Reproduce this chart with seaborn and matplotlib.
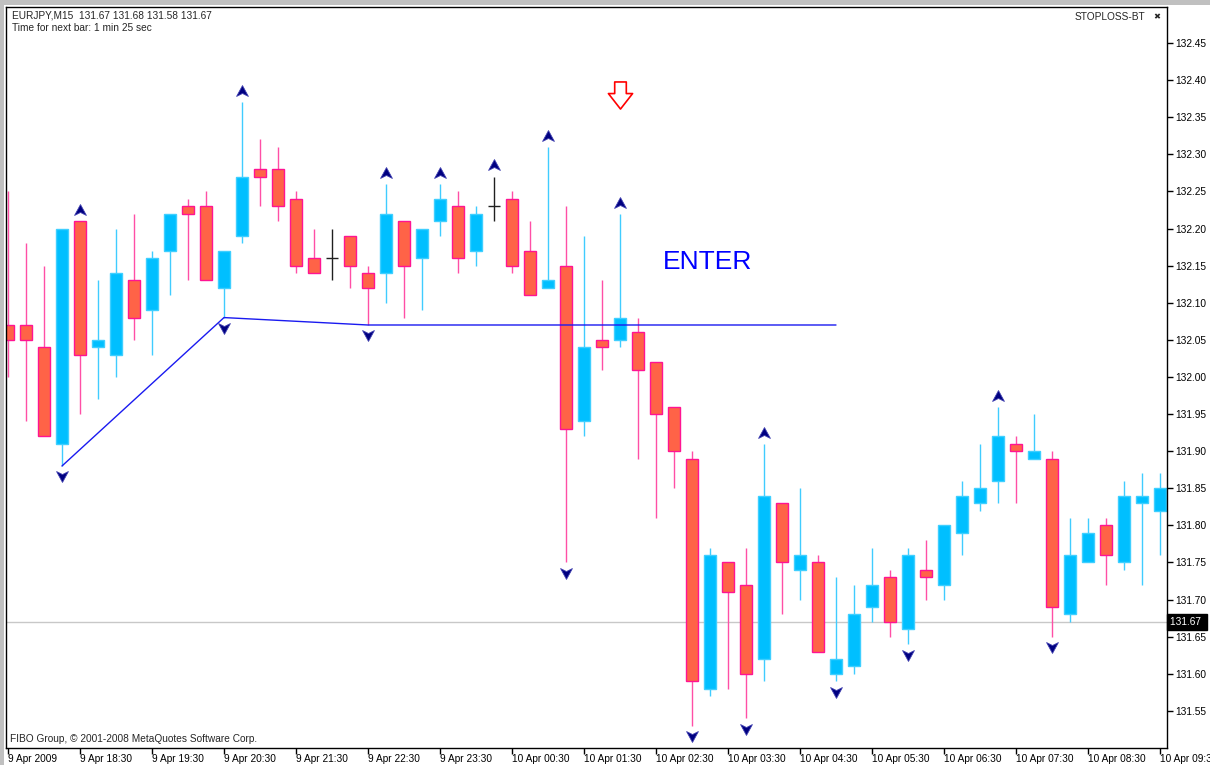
import matplotlib
matplotlib.use("Agg")
import matplotlib.pyplot as plt
import matplotlib.patches as mpatches
from matplotlib.path import Path
from matplotlib.transforms import offset_copy, blended_transform_factory
import numpy as np
import pandas as pd
import seaborn as sns

# ---------------- data (EURJPY M15) ----------------
opens = [132.07, 132.07, 132.04, 131.91, 132.21, 132.04, 132.03, 132.13, 132.09, 132.17,
         132.23, 132.23, 132.12, 132.19, 132.28, 132.28, 132.24, 132.16, 132.16, 132.19,
         132.14, 132.14, 132.21, 132.16, 132.21, 132.23, 132.17, 132.23, 132.24, 132.17,
         132.12, 132.15, 131.94, 132.05, 132.05, 132.06, 132.02, 131.96, 131.89, 131.58,
         131.75, 131.72, 131.62, 131.83, 131.74, 131.75, 131.60, 131.61, 131.69, 131.73,
         131.66, 131.74, 131.72, 131.79, 131.83, 131.86, 131.91, 131.89, 131.89, 131.68,
         131.75, 131.80, 131.75, 131.83, 131.82]
highs = [132.25, 132.18, 132.15, 132.20, 132.21, 132.13, 132.20, 132.22, 132.17, 132.22,
         132.24, 132.25, 132.17, 132.37, 132.32, 132.31, 132.25, 132.20, 132.20, 132.19,
         132.15, 132.26, 132.21, 132.20, 132.26, 132.25, 132.23, 132.27, 132.25, 132.21,
         132.31, 132.23, 132.19, 132.13, 132.22, 132.08, 132.02, 131.96, 131.90, 131.77,
         131.75, 131.77, 131.91, 131.83, 131.85, 131.76, 131.73, 131.72, 131.77, 131.74,
         131.77, 131.78, 131.80, 131.86, 131.91, 131.96, 131.92, 131.95, 131.90, 131.81,
         131.81, 131.81, 131.86, 131.87, 131.87]
lows = [132.00, 131.94, 131.92, 131.88, 131.95, 131.97, 132.00, 132.05, 132.03, 132.11,
        132.13, 132.13, 132.08, 132.18, 132.23, 132.21, 132.14, 132.14, 132.13, 132.12,
        132.07, 132.10, 132.08, 132.09, 132.19, 132.14, 132.15, 132.21, 132.14, 132.11,
        132.12, 131.75, 131.92, 132.01, 132.04, 131.89, 131.81, 131.85, 131.53, 131.57,
        131.58, 131.54, 131.59, 131.68, 131.70, 131.63, 131.59, 131.60, 131.67, 131.65,
        131.64, 131.70, 131.70, 131.76, 131.82, 131.83, 131.83, 131.89, 131.65, 131.67,
        131.75, 131.72, 131.74, 131.72, 131.76]
closes = [132.05, 132.05, 131.92, 132.20, 132.03, 132.05, 132.14, 132.08, 132.16, 132.22,
          132.22, 132.13, 132.17, 132.27, 132.27, 132.23, 132.15, 132.14, 132.16, 132.15,
          132.12, 132.22, 132.15, 132.20, 132.24, 132.16, 132.22, 132.23, 132.15, 132.11,
          132.13, 131.93, 132.04, 132.04, 132.08, 132.01, 131.95, 131.90, 131.59, 131.76,
          131.71, 131.60, 131.84, 131.75, 131.76, 131.63, 131.62, 131.68, 131.72, 131.67,
          131.76, 131.73, 131.80, 131.84, 131.85, 131.92, 131.90, 131.90, 131.69, 131.76,
          131.79, 131.76, 131.84, 131.84, 131.85]

time_tick_bars = [0, 4, 8, 12, 16, 20, 24, 28, 32, 36, 40, 44, 48, 52, 56, 60, 64]
time_tick_labels = ["9 Apr 2009", "9 Apr 18:30", "9 Apr 19:30", "9 Apr 20:30", "9 Apr 21:30",
                    "9 Apr 22:30", "9 Apr 23:30", "10 Apr 00:30", "10 Apr 01:30",
                    "10 Apr 02:30", "10 Apr 03:30", "10 Apr 04:30", "10 Apr 05:30",
                    "10 Apr 06:30", "10 Apr 07:30", "10 Apr 08:30", "10 Apr 09:30"]
price_ticks = [131.55, 131.60, 131.65, 131.70, 131.75, 131.80, 131.85, 131.90, 131.95, 132.00,
               132.05, 132.10, 132.15, 132.20, 132.25, 132.30, 132.35, 132.40, 132.45]

up_fractal_bars = [4, 13, 21, 24, 27, 30, 34, 42, 55]
down_fractal_bars = [3, 12, 20, 31, 38, 41, 46, 50, 58]

trend_bars = [3, 12, 20, 46]
trend_prices = [131.88, 132.08, 132.07, 132.07]

signal_bars = [34]
signal_prices = [132.38]

current_price = 131.67
enter_bar, enter_price = 36.4, 132.155

# ---------------- figure ----------------
sns.set_style("white")
plt.rcParams['font.family'] = ['Liberation Sans', 'DejaVu Sans']

W, H = 1210, 765
fig = plt.figure(figsize=(W / 100, H / 100), dpi=100)
fig.patch.set_facecolor("white")
ax = fig.add_axes([6 / W, 1 - 748 / H, (1167 - 6) / W, (748 - 7) / H])
ax.set_facecolor("white")

df = pd.DataFrame({"open": opens, "high": highs, "low": lows, "close": closes})
df["bar"] = np.arange(len(df))
bull = df[df.close > df.open]
bear = df[df.close < df.open]
doji = df[df.close == df.open]

BULL_FILL, BULL_EDGE, BULL_WICK = "#00BFFF", "#3FCFFF", "#40CCFF"
BEAR_FILL, BEAR_EDGE, BEAR_WICK = "#FF6347", "#FF1493", "#FF4FA6"
BODY_W = 0.68

ax.axhline(current_price, color="#C8C8C8", lw=1, zorder=0.5)

ax.vlines(bull.bar, bull.low, bull.high, color=BULL_WICK, lw=1, zorder=1)
ax.vlines(bear.bar, bear.low, bear.high, color=BEAR_WICK, lw=1, zorder=1)
ax.vlines(doji.bar, doji.low, doji.high, color="#202020", lw=1, zorder=1)
ax.hlines(doji.close, doji.bar - BODY_W / 2, doji.bar + BODY_W / 2, color="#202020", lw=1, zorder=2)

ax.bar(bull.bar, bull.close - bull.open, bottom=bull.open, width=BODY_W,
       color=BULL_FILL, edgecolor=BULL_EDGE, lw=1, zorder=2)
ax.bar(bear.bar, bear.open - bear.close, bottom=bear.close, width=BODY_W,
       color=BEAR_FILL, edgecolor=BEAR_EDGE, lw=1, zorder=2)

# trend line
sns.lineplot(x=trend_bars, y=trend_prices, ax=ax, color="#1A1AF0", lw=1,
             sort=False, estimator=None, zorder=3)

# fractal markers
up_path = Path([(0, 6), (6, -5), (0, -2), (-6, -5), (0, 6)],
               [Path.MOVETO, Path.LINETO, Path.LINETO, Path.LINETO, Path.CLOSEPOLY])
down_path = Path([(0, -6), (6, 5), (0, 2), (-6, 5), (0, -6)],
                 [Path.MOVETO, Path.LINETO, Path.LINETO, Path.LINETO, Path.CLOSEPOLY])
up_tr = offset_copy(ax.transData, fig=fig, y=8, units="points")
dn_tr = offset_copy(ax.transData, fig=fig, y=-7.5, units="points")
ax.plot(up_fractal_bars, [highs[i] for i in up_fractal_bars], ls="none", marker=up_path,
        ms=8.5, mfc="#000080", mec="#4040B0", mew=0.6, transform=up_tr, zorder=4)
ax.plot(down_fractal_bars, [lows[i] for i in down_fractal_bars], ls="none", marker=down_path,
        ms=8.5, mfc="#000080", mec="#4040B0", mew=0.6, transform=dn_tr, zorder=4)

# sell signal arrow
arrow_path = Path([(-6, 14), (6, 14), (6, 2), (12.5, 2), (0, -14), (-12.5, 2), (-6, 2), (-6, 14)],
                  [Path.MOVETO] + [Path.LINETO] * 6 + [Path.CLOSEPOLY])
ax.plot(signal_bars, signal_prices, ls="none", marker=arrow_path, ms=19.5,
        mfc="white", mec="#FF0000", mew=1.2, zorder=4)

ax.text(enter_bar, enter_price, "ENTER", color="#0000FF", fontsize=19,
        ha="left", va="center", zorder=5)

# axes
ax.set_xlim(-0.11, 64.39)
ax.set_ylim(131.50, 132.4985)
ax.yaxis.tick_right()
ax.set_yticks(price_ticks)
ax.set_yticklabels([f"{p:.2f}" for p in price_ticks])
ax.set_xticks(time_tick_bars)
ax.set_xticklabels(time_tick_labels, ha="left")
ax.tick_params(axis="y", direction="out", length=4, width=1, pad=2, labelsize=7.3,
               colors="black", right=True, left=False)
ax.tick_params(axis="x", direction="out", length=4, width=1, pad=0.5, labelsize=7.3,
               colors="black", bottom=True)
for s in ax.spines.values():
    s.set_visible(True)
    s.set_color("black")
    s.set_linewidth(1)
ax.set_xlabel("")
ax.set_ylabel("")

# current price tag
btr = blended_transform_factory(ax.transAxes, ax.transData)
ax.text(1.0025, current_price, "131.67 ", transform=btr, color="white", fontsize=7.3,
        ha="left", va="center", clip_on=False, zorder=6,
        bbox=dict(boxstyle="square,pad=0.3", facecolor="black", edgecolor="black"))

# window chrome / labels
fig.patches.append(mpatches.Rectangle((0, 1 - 5 / H), 1, 5 / H, transform=fig.transFigure,
                                      facecolor="#C0C0C0", edgecolor="none", zorder=0))
fig.patches.append(mpatches.Rectangle((0, 0), 4 / W, 1, transform=fig.transFigure,
                                      facecolor="#C0C0C0", edgecolor="none", zorder=0))

fig.text(12 / W, 1 - 16 / H, "EURJPY,M15  131.67 131.68 131.58 131.67", fontsize=7.3,
         ha="left", va="center")
fig.text(12 / W, 1 - 28 / H, "Time for next bar: 1 min 25 sec", fontsize=7.3,
         ha="left", va="center")
fig.text(1145 / W, 1 - 17 / H, "STOPLOSS-BT", fontsize=7.3, ha="right", va="center")
fig.text(1157 / W, 1 - 17 / H, "\u2716", fontsize=6, ha="center", va="center",
         family=["DejaVu Sans"])
fig.text(10 / W, 1 - 739 / H, "FIBO Group, \u00a9 2001-2008 MetaQuotes Software Corp.",
         fontsize=7.3, ha="left", va="center")

fig.savefig("out.png", dpi=100, facecolor="white")
